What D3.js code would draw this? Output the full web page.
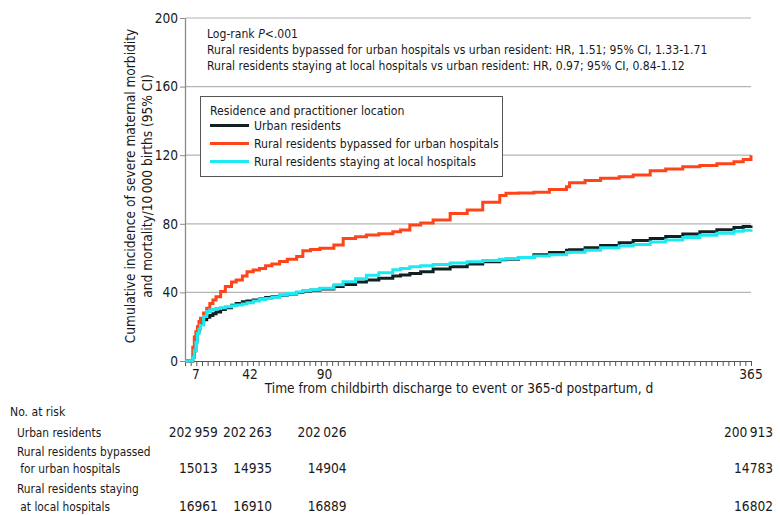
<!DOCTYPE html>
<html>
<head>
<meta charset="utf-8">
<script src="https://cdn.jsdelivr.net/npm/d3@7"></script>
<style>
  body { margin: 0; background: #fff; }
  svg text { font-family: "DejaVu Sans Condensed", "DejaVu Sans", sans-serif; font-stretch: condensed; fill: #1a1a1a; }
</style>
</head>
<body>
<svg id="chart" width="780" height="515"></svg>
<script>
// Days since discharge at which the curves were read
const days = [0, 3, 5, 6, 7, 8, 9, 10, 12, 14, 16, 18, 20, 23, 26, 30, 33, 37, 40, 44, 48, 52, 56, 61, 66, 72, 76, 81, 87, 96,
  102, 110, 117, 125, 134, 139, 145, 152, 160, 171, 182, 192, 203, 207, 215, 225, 235, 246, 248, 258, 268, 280, 289, 300,
  310, 321, 332, 343, 354, 360, 365];

// Cumulative incidence per 10 000 births
const urbanValues = [0, 0, 2, 6, 12, 17, 20, 22, 24, 25.5, 26.5, 27.5, 28.5, 30, 31, 32.5, 33.5, 34.5, 35, 35.6, 36.2, 37, 37.5,
  38.3, 39, 40, 40.6, 41.2, 42, 43.5, 44.6, 46, 47.2, 48.3, 49.5, 50.2, 51, 52, 53.6, 55, 56.6, 57.8, 59, 59.4, 60.4, 62, 63.3,
  64.6, 64.8, 66, 67.4, 69, 70.3, 71.5, 72.6, 74, 75.3, 76.5, 77.8, 78.4, 79];
const bypassValues = [0, 0, 8, 14, 17, 20, 23, 25, 28, 30.7, 33.5, 35.5, 37.5, 40.5, 43.5, 46, 47.2, 49.5, 52, 53, 54, 55.5, 56.5,
  58, 59.4, 61, 64.3, 65, 65.7, 67.6, 71.5, 72.4, 73.5, 74.2, 75.4, 76.4, 79.3, 80.5, 82.2, 86, 88, 92.5, 96.5, 97.8, 98, 98.4,
  100, 101.6, 104, 105.2, 106.5, 107.4, 108.5, 111, 112, 113.3, 114, 115, 116.2, 117.5, 120];
const localValues = [0, 0, 2, 6, 11, 16, 18.5, 21, 26, 28.8, 29.8, 30.2, 30.6, 31, 31.6, 32.2, 32.7, 33.3, 34, 35, 35.8, 36.5, 37.2,
  38.5, 39.4, 40.3, 41, 41.6, 42.4, 44.5, 46.2, 48, 50, 51.5, 53.2, 54, 55, 55.6, 56.3, 57.2, 57.9, 58.6, 59.3, 59.6, 60.4, 61.2,
  62, 63.2, 63.4, 64.6, 66, 67, 68, 69.4, 70.6, 72, 73.3, 74.5, 75.6, 76.2, 76.8];

const seriesNames = ['Urban residents', 'Rural residents bypassed for urban hospitals', 'Rural residents staying at local hospitals'];
const seriesColors = ['#122022', '#ff4419', '#1de9f2'];

const yTicks = [0, 40, 80, 120, 160, 200];
const xTicks = [7, 42, 90, 365];

// Numbers at risk
const riskDays = [7, 42, 90, 365];
const riskLabels = [['Urban residents'], ['Rural residents bypassed', ' for urban hospitals'], ['Rural residents staying', ' at local hospitals']];
const urbanRisk = ['202\u2009959', '202\u2009263', '202\u2009026', '200\u2009913'];
const bypassRisk = ['15013', '14935', '14904', '14783'];
const localRisk = ['16961', '16910', '16889', '16802'];

const annotations = ['Rural residents bypassed for urban hospitals vs urban resident: HR, 1.51; 95% CI, 1.33-1.71',
  'Rural residents staying at local hospitals vs urban resident: HR, 0.97; 95% CI, 0.84-1.12'];

const textSize = 12.1;
const titleSize = 13.6;
const numSize = 13.6;

const margin = {top: 18, left: 185};
const width = 751 - margin.left;
const height = 361 - margin.top;

const svg = d3.select('#chart');
const chart = svg.append('g')
    .attr('transform', `translate(${margin.left},${margin.top})`);

const xScale = d3.scaleLinear().domain([0, 365]).range([0, width]);
const yScale = d3.scaleLinear().domain([0, 200]).range([height, 0]);

// Gridlines
chart.append('g')
    .selectAll('line')
    .data(yTicks.filter(d => d > 0))
  .join('line')
    .attr('x1', 0)
    .attr('x2', width)
    .attr('y1', d => yScale(d))
    .attr('y2', d => yScale(d))
    .attr('stroke', '#b4b4b4')
    .attr('stroke-width', 1.2);

// Y axis
const yAxisG = chart.append('g')
    .call(d3.axisLeft(yScale).tickValues(yTicks).tickSize(5).tickPadding(2).tickSizeOuter(0));
yAxisG.select('.domain').attr('stroke', '#8a8a8a').attr('stroke-width', 1.3);
yAxisG.selectAll('.tick line').attr('stroke', '#8a8a8a');
yAxisG.selectAll('.tick text').attr('font-size', numSize).attr('font-family', null);

// X axis: minor ticks then labelled ticks
const minorTicks = d3.range(0, 101).map(i => i * 3.65);
const xAxisG = chart.append('g')
    .attr('transform', `translate(0,${height})`)
    .call(d3.axisBottom(xScale).tickValues(minorTicks).tickSize(5).tickFormat('').tickSizeOuter(0));
xAxisG.select('.domain').attr('stroke', '#555').attr('stroke-width', 1.2);
xAxisG.selectAll('.tick line').attr('stroke', '#555');

chart.append('g')
    .selectAll('text')
    .data(xTicks)
  .join('text')
    .attr('x', d => xScale(d))
    .attr('y', height + 17.5)
    .attr('text-anchor', 'middle')
    .attr('font-size', numSize)
    .text(d => d);

// Curves
const line = d3.line()
    .x((d, i) => xScale(days[i]))
    .y(d => yScale(d))
    .curve(d3.curveStepAfter);

[urbanValues, bypassValues, localValues].forEach((vals, i) => {
  chart.append('path')
      .datum(vals)
      .attr('fill', 'none')
      .attr('stroke', seriesColors[i])
      .attr('stroke-width', 3)
      .attr('d', line);
});

// Statistics text
const stats = chart.append('text')
    .attr('x', 22)
    .attr('y', 19.5)
    .attr('font-size', textSize);
stats.append('tspan').text('Log-rank ');
stats.append('tspan').attr('font-style', 'italic').text('P');
stats.append('tspan').text('<.001');

chart.selectAll('.stat-line')
    .data(annotations)
  .join('text')
    .attr('class', 'stat-line')
    .attr('x', 22)
    .attr('y', (d, i) => 36 + i * 16.3)
    .attr('font-size', textSize)
    .text(d => d);

// Legend
const legend = svg.append('g')
    .attr('transform', 'translate(200.5,96.5)');
legend.append('rect')
    .attr('width', 302)
    .attr('height', 80)
    .attr('fill', '#fff')
    .attr('stroke', '#555')
    .attr('stroke-width', 1);
legend.append('text')
    .attr('x', 9.5)
    .attr('y', 18.5)
    .attr('font-size', 12.2)
    .text('Residence and practitioner location');
seriesNames.forEach((name, i) => {
  const ly = 29 + i * 18;
  legend.append('line')
      .attr('x1', 9.5)
      .attr('x2', 48.5)
      .attr('y1', ly)
      .attr('y2', ly)
      .attr('stroke', seriesColors[i])
      .attr('stroke-width', 3);
  legend.append('text')
      .attr('x', 53.5)
      .attr('y', ly + 4.5)
      .attr('font-size', 12.2)
      .text(name);
});

// Axis titles
svg.append('text')
    .attr('x', 459)
    .attr('y', 392.5)
    .attr('text-anchor', 'middle')
    .attr('font-size', titleSize)
    .text('Time from childbirth discharge to event or 365-d postpartum, d');

const yTitle = svg.append('text')
    .attr('transform', 'translate(134.5,186) rotate(-90)')
    .attr('text-anchor', 'middle')
    .attr('font-size', titleSize);
yTitle.append('tspan').attr('x', 0).attr('y', 0).text('Cumulative incidence of severe maternal morbidity');
yTitle.append('tspan').attr('x', 0).attr('y', 17.5).text('and mortality/10\u2009000 births (95% CI)');

// Number at risk table
svg.append('text')
    .attr('x', 10)
    .attr('y', 415.5)
    .attr('font-size', textSize)
    .text('No. at risk');

const rowBaselines = [[436.5], [455.5, 472.5], [492.5, 510.5]];
riskLabels.forEach((lines, r) => {
  lines.forEach((txt, k) => {
    svg.append('text')
        .attr('x', 17)
        .attr('y', rowBaselines[r][k])
        .attr('font-size', 11.8)
        .style('white-space', 'pre')
        .text(txt);
  });
});

[urbanRisk, bypassRisk, localRisk].forEach((vals, r) => {
  const rowY = rowBaselines[r][rowBaselines[r].length - 1];
  svg.append('g')
      .selectAll('text')
      .data(vals)
    .join('text')
      .attr('x', (d, i) => margin.left + xScale(riskDays[i]) + 22)
      .attr('y', rowY)
      .attr('text-anchor', 'end')
      .attr('font-size', numSize)
      .text(d => d);
});
</script>
</body>
</html>
